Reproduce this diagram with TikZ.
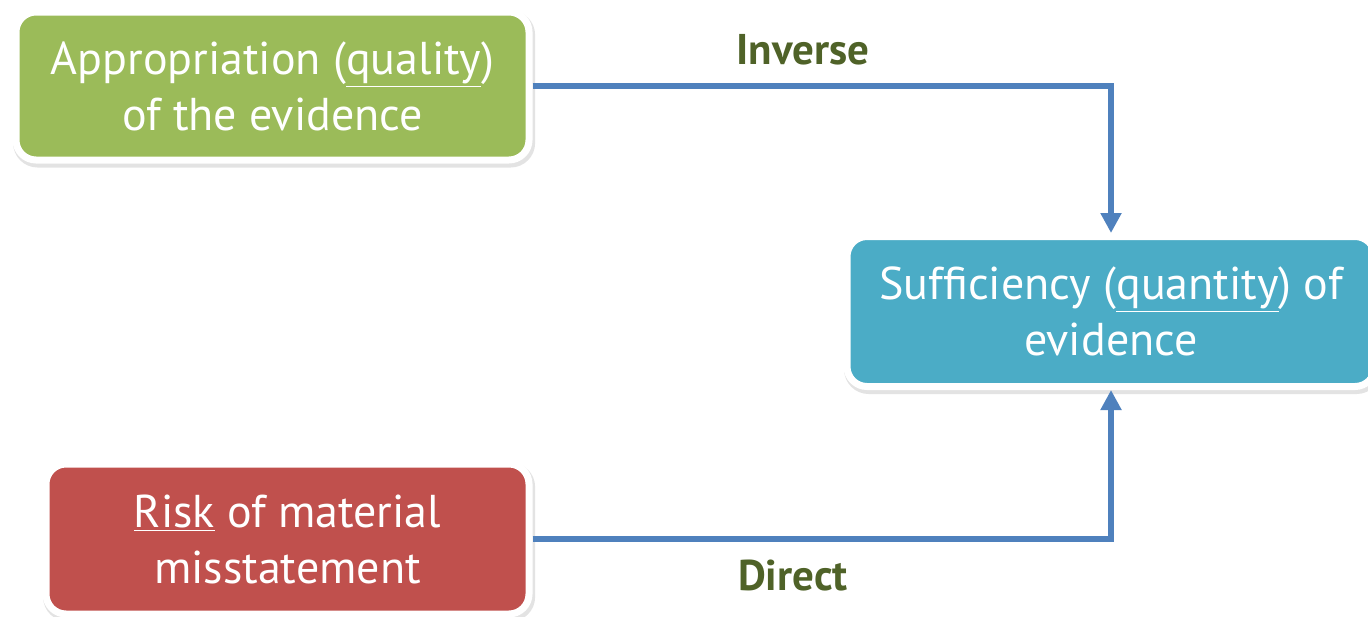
\documentclass[tikz,border=0pt]{standalone}
\usepackage{fontspec}
\setmainfont{PT Sans}
\usetikzlibrary{arrows.meta,shadows}
\definecolor{cgreen}{HTML}{9BBB59}
\definecolor{cblue}{HTML}{4BACC6}
\definecolor{cred}{HTML}{C0504D}
\definecolor{carrow}{HTML}{4F81BD}
\definecolor{clabel}{HTML}{4F6228}
\tikzset{
  boxnode/.style={draw=white, line width=3.5pt, rounded corners=10pt, text=white,
    align=center, inner sep=0pt, font=\fontsize{23}{28}\selectfont,
    drop shadow={shadow xshift=0.8pt, shadow yshift=-1.5pt, draw=black!22, fill=black!22, line width=4.5pt}},
  conn/.style={draw=carrow, line width=2.8pt, -{Triangle[width=10pt,length=10pt]}},
  lbl/.style={text=clabel, font=\fontsize{21.5}{24}\selectfont\bfseries}
}
\begin{document}
\begin{tikzpicture}[x=0.5pt,y=-0.5pt]
\useasboundingbox (0,0) rectangle (1368,616);
\node[boxnode, fill=cgreen, minimum width=256.5pt, minimum height=74pt] (green) at (272.5,86)
  {Appropriation (\underline{quality})\\of the evidence};
\node[boxnode, fill=cblue, minimum width=264pt, minimum height=75pt] (blue) at (1111,311.5)
  {Sufficiency (\underline{quantity}) of\\evidence};
\node[boxnode, fill=cred, minimum width=241.5pt, minimum height=75pt] (red) at (287.5,539)
  {\underline{Risk} of material\\misstatement};
\draw[conn] (green.east) -| (blue.north);
\draw[conn] (red.east) -| (blue.south);
\node[lbl] (inv) at (803,50) {Inverse};
\node[lbl] (dir) at (793,576) {Direct};
\end{tikzpicture}
\end{document}
